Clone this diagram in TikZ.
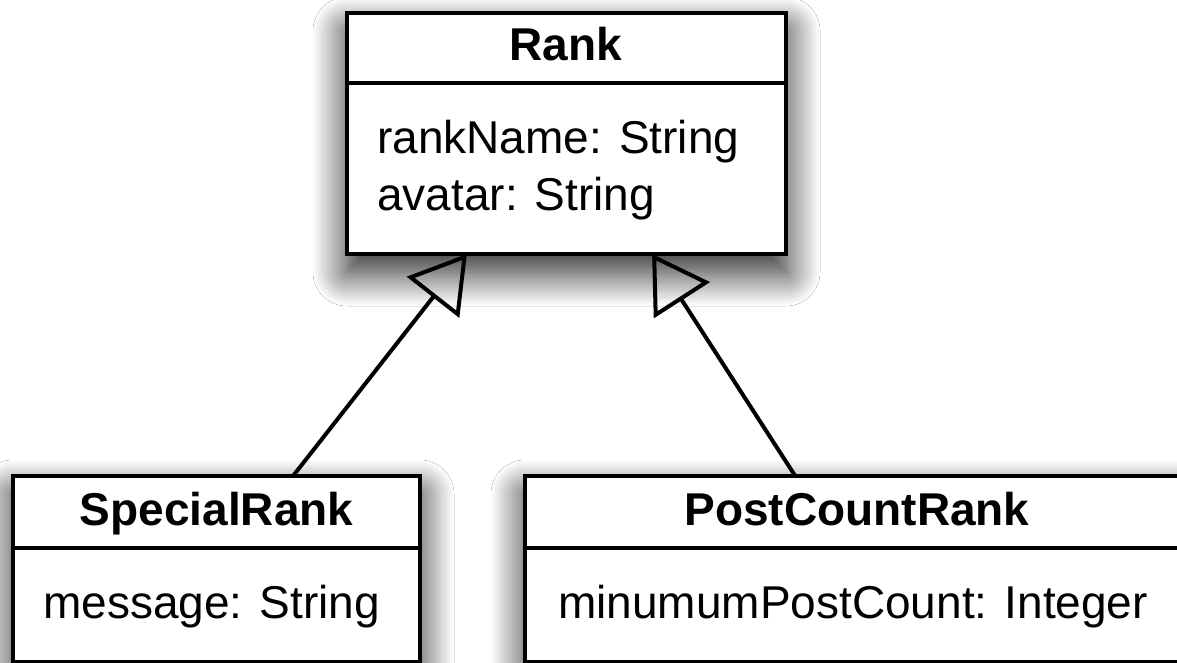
\documentclass[tikz,border=0pt]{standalone}
\usepackage{fontspec}
\setmainfont{Liberation Sans}
\usetikzlibrary{arrows.meta,shadows.blur,calc}
\tikzset{
  umlbox/.style={draw=black, line width=4.2pt, fill=white, inner sep=0pt, outer sep=0pt, anchor=north west},
  umlshadow/.style={fill=white, inner sep=0pt, outer sep=0pt, anchor=north west,
    blur shadow={shadow xshift=0pt, shadow yshift=-18pt, shadow blur radius=34pt, shadow blur steps=30, shadow opacity=90}},
  umltitle/.style={font=\fontsize{46}{55}\selectfont\bfseries, anchor=base, inner sep=0pt},
  umlattr/.style={font=\fontsize{46}{55}\selectfont, anchor=base west, inner sep=0pt},
  gen/.style={line width=4pt, -{Triangle[open, length=55pt, width=66pt]}},
}
\begin{document}
\begin{tikzpicture}[x=1pt,y=-1pt]
\useasboundingbox (0,0) rectangle (1177,663);
\fill[white] (0,0) rectangle (1177,663);
\clip (0,0) rectangle (1177,663);

% Rank
\node[umlshadow, minimum width=439pt, minimum height=241pt] (rank) at (347,13) {};
\node[umlbox, minimum width=439pt, minimum height=70pt] (rank-h) at (rank.north west) {};
\node[umlbox, minimum width=439pt, minimum height=171pt] (rank-b) at (rank-h.south west) {};
\node[umltitle] (rank-t) at (566,61) {Rank};
\node[umlattr] (rank-a1) at (377,154) {rankName: String};
\node[umlattr] (rank-a2) at (377,210) {avatar: String};

% SpecialRank
\node[umlshadow, minimum width=407pt, minimum height=186pt] (sr) at (13,476) {};
\node[umlbox, minimum width=407pt, minimum height=72pt] (sr-h) at (sr.north west) {};
\node[umlbox, minimum width=407pt, minimum height=114pt] (sr-b) at (sr-h.south west) {};
\node[umltitle] (sr-t) at (216.5,525) {SpecialRank};
\node[umlattr] (sr-a1) at (43,618) {message: String};

% PostCountRank
\node[umlshadow, minimum width=664pt, minimum height=186pt] (pcr) at (525,476) {};
\node[umlbox, minimum width=664pt, minimum height=72pt] (pcr-h) at (pcr.north west) {};
\node[umlbox, minimum width=664pt, minimum height=114pt] (pcr-b) at (pcr-h.south west) {};
\node[umltitle] (pcr-t) at (857,525) {PostCountRank};
\node[umlattr] (pcr-a1) at (558,618) {minumumPostCount: Integer};

% generalisations
\draw[gen] ($(sr.north west)!0.688!(sr.north east)$) -- ($(rank.south west)!0.273!(rank.south east)$);
\draw[gen] ($(pcr.north west)!0.407!(pcr.north east)$) -- ($(rank.south west)!0.695!(rank.south east)$);
\end{tikzpicture}
\end{document}
